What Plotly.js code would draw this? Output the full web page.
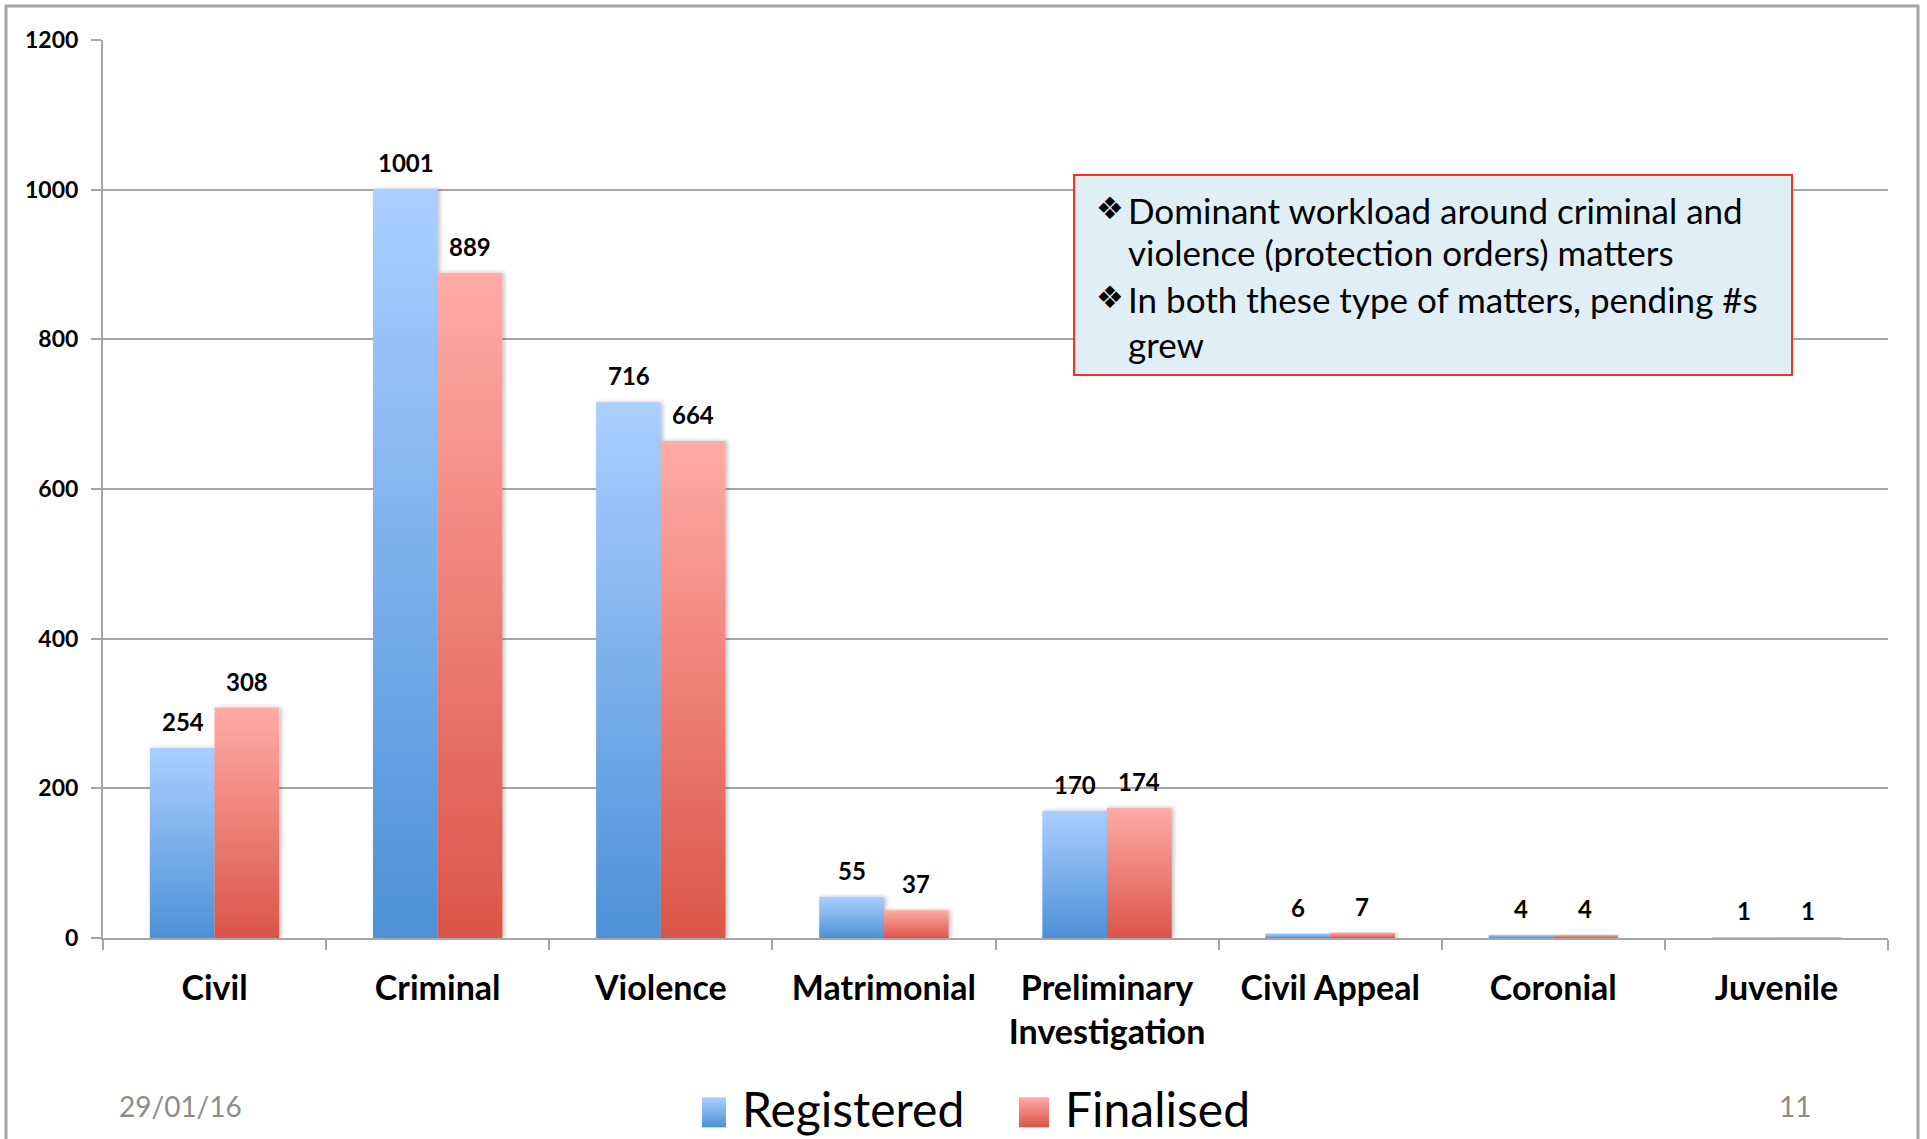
<!DOCTYPE html>
<html><head><meta charset="utf-8">
<script src="https://cdn.plot.ly/plotly-3.0.1.min.js"></script>
<style>html,body{margin:0;padding:0;background:#fff;overflow:hidden;} #chart{width:1927px;height:1139px;}</style>
</head><body><div id="chart"></div>
<script>
// ---- data ----
const categories = ['Civil','Criminal','Violence','Matrimonial','Preliminary Investigation','Civil Appeal','Coronial','Juvenile'];
const tickLabels = ['Civil','Criminal','Violence','Matrimonial','Preliminary<br>Investigation','Civil Appeal','Coronial','Juvenile'];
const registered = [254,1001,716,55,170,6,4,1];
const finalised  = [308,889,664,37,174,7,4,1];
const seriesNames = ['Registered','Finalised'];
const yTicks = [0,200,400,600,800,1000,1200];
const noteLines = [
  {bullet:true,  text:'Dominant workload around criminal and'},
  {bullet:false, text:'violence (protection orders) matters'},
  {bullet:true,  text:'In both these type of matters, pending #s'},
  {bullet:false, text:'grew'}
];
const footerDate = '29/01/16';
const pageNumber = '11';

// ---- layout geometry ----
const W = 1927, H = 1139;
const L = 103, R = 1888, T = 40, B = 938;
const px = x => (x - L) / (R - L);
const py = y => (B - y) / (B - T);
const FONT = 'Lato, "Open Sans", sans-serif';
const GRID = '#a6a6a6';

const data = [
  {type:'bar', name:seriesNames[0], x:categories, y:registered, marker:{color:'#7fb0ea', line:{width:0}}, hoverinfo:'none'},
  {type:'bar', name:seriesNames[1], x:categories, y:finalised,  marker:{color:'#f08b83', line:{width:0}}, hoverinfo:'none'}
];

const annotations = [];
const valFont = {family:FONT, size:24, color:'#000', weight:700};
categories.forEach((c,i)=>{
  annotations.push({x:c, y:registered[i], xref:'x', yref:'y', text:String(registered[i]), showarrow:false, xshift:-32, yshift:11, yanchor:'bottom', borderpad:0, font:valFont});
  annotations.push({x:c, y:finalised[i],  xref:'x', yref:'y', text:String(finalised[i]),  showarrow:false, xshift:32,  yshift:11, yanchor:'bottom', borderpad:0, font:valFont});
});
const noteY = [210, 252, 299, 344];
noteLines.forEach((ln,i)=>{
  if (ln.bullet) annotations.push({xref:'paper', yref:'paper', x:px(1094), y:py(noteY[i]-2), xanchor:'left', yanchor:'middle', text:'\u2756', showarrow:false, font:{family:'DejaVu Sans', size:31, color:'#000'}});
  annotations.push({xref:'paper', yref:'paper', x:px(1126), y:py(noteY[i]), xanchor:'left', yanchor:'middle', text:ln.text, showarrow:false, font:{family:FONT, size:35, color:'#000'}});
});
annotations.push({xref:'paper', yref:'paper', x:px(117), y:py(1106), xanchor:'left', yanchor:'middle', text:footerDate, showarrow:false, font:{family:FONT, size:28, color:'#8c8c8c'}});
annotations.push({xref:'paper', yref:'paper', x:px(1777), y:py(1106), xanchor:'left', yanchor:'middle', text:pageNumber, showarrow:false, font:{family:FONT, size:28, color:'#8c8c8c'}});

const layout = {
  width:W, height:H,
  margin:{l:L, r:W-R, t:T, b:H-B, autoexpand:false},
  paper_bgcolor:'#fff', plot_bgcolor:'#fff',
  barmode:'group', bargap:0.42, bargroupgap:0,
  showlegend:true,
  legend:{orientation:'h', xref:'paper', yref:'paper', x:px(702), xanchor:'left', y:py(1109), yanchor:'middle',
          font:{family:FONT, size:48, color:'#000'}, entrywidth:278, entrywidthmode:'pixels', bgcolor:'rgba(0,0,0,0)'},
  xaxis:{type:'category', categoryorder:'array', categoryarray:categories, tickvals:categories, ticktext:tickLabels,
         showline:true, linecolor:GRID, linewidth:2, ticks:'outside', tickson:'boundaries', ticklen:10, tickwidth:2, tickcolor:GRID,
         ticklabelstandoff:19, tickfont:{family:FONT, size:34, color:'#000', weight:700}, showgrid:false, zeroline:false, fixedrange:true},
  yaxis:{range:[0,1200], tickvals:yTicks, showline:true, linecolor:GRID, linewidth:2, ticks:'outside', ticklen:10, tickwidth:2, tickcolor:GRID,
         ticklabelstandoff:8, tickfont:{family:FONT, size:23, color:'#000', weight:700}, showgrid:true, gridcolor:GRID, gridwidth:2, zeroline:false, fixedrange:true},
  shapes:[
    {type:'rect', xref:'paper', yref:'paper', x0:px(6), x1:px(1918), y0:py(6), y1:py(1300), line:{color:'#a6a6a6', width:3}, fillcolor:'rgba(0,0,0,0)', layer:'below'},
    {type:'rect', xref:'paper', yref:'paper', x0:px(1074), x1:px(1792), y0:py(175), y1:py(375), line:{color:'#f5321e', width:2}, fillcolor:'#e0eef6', layer:'above'}
  ],
  annotations:annotations
};

const gd = document.getElementById('chart');
Plotly.newPlot(gd, data, layout, {staticPlot:true, displayModeBar:false}).then(()=>{
  const ns = 'http://www.w3.org/2000/svg';
  const svg = gd.querySelector('.main-svg');
  let defs = svg.querySelector('defs');
  if (!defs) { defs = document.createElementNS(ns,'defs'); svg.insertBefore(defs, svg.firstChild); }
  const grads = [['gradReg','#abcfff','#4d91d7'],['gradFin','#ffaba6','#db5548']];
  grads.forEach(([id,top,bot])=>{
    const g = document.createElementNS(ns,'linearGradient');
    g.setAttribute('id',id); g.setAttribute('x1','0'); g.setAttribute('y1','0'); g.setAttribute('x2','0'); g.setAttribute('y2','1');
    [[0,top],[1,bot]].forEach(([o,c])=>{ const s=document.createElementNS(ns,'stop'); s.setAttribute('offset',o); s.setAttribute('stop-color',c); g.appendChild(s); });
    defs.appendChild(g);
  });
  const f = document.createElementNS(ns,'filter');
  f.setAttribute('id','barShadow'); f.setAttribute('x','-20%'); f.setAttribute('y','-5%'); f.setAttribute('width','140%'); f.setAttribute('height','110%');
  const ds = document.createElementNS(ns,'feDropShadow');
  ds.setAttribute('dx','2'); ds.setAttribute('dy','0'); ds.setAttribute('stdDeviation','2'); ds.setAttribute('flood-color','#000'); ds.setAttribute('flood-opacity','0.25');
  f.appendChild(ds); defs.appendChild(f);

  gd.querySelectorAll('.barlayer .trace').forEach((t,i)=>{
    t.querySelectorAll('path').forEach(p=>{ p.style.fill = 'url(#'+grads[i][0]+')'; p.style.filter='url(#barShadow)'; });
  });
  gd.querySelectorAll('.legend .traces').forEach((t,i)=>{
    const txt = t.querySelector('.legendtext');
    const paths = Array.from(t.querySelectorAll('.legendpoints path'));
    if (!txt || !paths.length) return;
    let best = null, bestA = 0;
    paths.forEach(p=>{ const r = p.getBoundingClientRect(); const a = r.width*r.height; if (a > bestA) { bestA = a; best = p; } });
    if (!best) return;
    const p = best;
    p.style.fill = 'url(#'+grads[i][0]+')';
    p.style.stroke = 'none';
    const orig = p.getAttribute('transform') || '';
    const bb = p.getBBox();
    const cx = bb.x + bb.width/2, cy = bb.y + bb.height/2;
    const r0 = p.getBoundingClientRect();
    const s = 30 / r0.width;
    const base = orig + ' translate('+cx+','+cy+') scale('+s+') translate('+(-cx)+','+(-cy)+')';
    p.setAttribute('transform', base);
    const tr = txt.getBoundingClientRect();
    const pr = p.getBoundingClientRect();
    const dx = (tr.left - 16) - pr.right;
    const dy = (tr.top + tr.height*0.56) - (pr.top + pr.height/2);
    p.setAttribute('transform', 'translate('+dx+','+dy+') ' + base);
  });
});
</script>
</body></html>
